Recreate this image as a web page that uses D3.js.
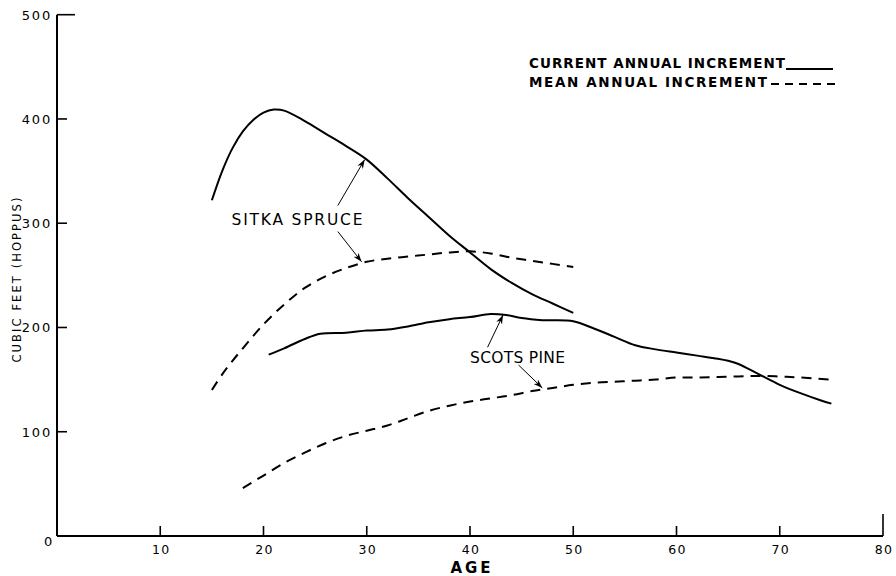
<!DOCTYPE html>
<html><head><meta charset="utf-8">
<script src="https://cdn.jsdelivr.net/npm/d3@7/dist/d3.min.js"></script>
<style>body{margin:0;background:#fff}svg{display:block}</style>
</head><body>
<svg id="c" width="896" height="576"></svg>
<script>
// ---- data (age in years, volume in cubic feet hoppus) ----
const xTicks = [10,20,30,40,50,60,70,80];
const yTicks = [100,200,300,400,500];
const sitkaCaiAge = [15,16,17,18,19,20,21,22,24,26,28,30,32,34,36,38,40,42,44,46,48,50];
const sitkaCaiVal = [322,350,372,388,399,406,409,408,398,386,374,361,343,324,306,288,272,256,243,232,223,214];
const sitkaMaiAge = [15,16,17,18,20,22,24,26,28,30,32,34,36,38,40,42,44,46,48,50];
const sitkaMaiVal = [140,155,168,180,203,222,238,249,257,263,266,268,270,272,273,271,267,264,261,258];
const scotsCaiAge = [20.5,22,24,25.5,28,30,32,34,36,38,40,42,43.5,45,47,50,52,54,56,58,60,62,64,65,66,68,70,72,74,75];
const scotsCaiVal = [174,180,189,194,195,197,198,201,205,208,210,213,212,209,207,206,199,191,183,179,176,173,170,168,165,155,145,137,130,127];
const scotsMaiAge = [18,20,22,24,26,28,30,32,34,36,38,40,42,44,46,48,50,52,54,56,58,60,62,64,66,68,70,72,75];
const scotsMaiVal = [46,58,70,80,89,96,101,106,113,120,125,129,132,135,139,142,145,147,148,149,150,152,152,152.5,153,153.5,153,152,150];
const labelNames = ["SITKA  SPRUCE","SCOTS PINE"];
const labelAt = [[16.9,298],[40,166]];
const arrowFrom = [[27.2,317],[27.2,292],[41.7,181],[44.7,164]];
const arrowTo   = [[29.8,361],[29.5,263],[43.2,212],[47.0,142]];
const legendNames = ["CURRENT ANNUAL INCREMENT","MEAN ANNUAL  INCREMENT"];

const svg = d3.select("#c");
const x = d3.scaleLinear().domain([0,80]).range([57,883]);
const y = d3.scaleLinear().domain([0,500]).range([536,14.7]);
const FONT = "'DejaVu Sans', sans-serif";

// axes
svg.append("line").attr("x1",x(0)).attr("x2",x(0)).attr("y1",y(0)).attr("y2",y(500))
  .attr("stroke","#000").attr("stroke-width",2);
svg.append("line").attr("x1",x(0)).attr("x2",x(80)).attr("y1",y(0)).attr("y2",y(0))
  .attr("stroke","#000").attr("stroke-width",2);
// y ticks (inward)
svg.selectAll(".yt").data(yTicks).enter().append("line")
  .attr("x1",x(0)).attr("x2",d=> d===500 ? x(0)+18 : x(0)+10)
  .attr("y1",d=>y(d)).attr("y2",d=>y(d)).attr("stroke","#000").attr("stroke-width",1.6);
svg.selectAll(".yl").data([0].concat(yTicks)).enter().append("text")
  .attr("x",d=> d===0 ? x(0)-3 : x(0)-5).attr("y",d=> d===0 ? y(0)+10 : y(d)+5)
  .attr("text-anchor","end").attr("font-family",FONT).attr("font-size",13)
  .attr("letter-spacing",1.8).text(d=>d);
// x ticks (inward/up)
svg.selectAll(".xt").data(xTicks).enter().append("line")
  .attr("x1",d=>x(d)).attr("x2",d=>x(d)).attr("y1",y(0))
  .attr("y2",d=> d===80 ? y(0)-22 : y(0)-10).attr("stroke","#000").attr("stroke-width",1.6);
svg.selectAll(".xl").data(xTicks).enter().append("text")
  .attr("x",d=>x(d)+1).attr("y",y(0)+18).attr("text-anchor","middle")
  .attr("font-family",FONT).attr("font-size",12.5).attr("letter-spacing",1.2).text(d=>d);
svg.append("text").attr("x",(x(40)+2)).attr("y",573).attr("text-anchor","middle")
  .attr("font-family",FONT).attr("font-weight","bold").attr("font-size",15)
  .attr("letter-spacing",3).text("AGE");
svg.append("text").attr("transform","translate(21,280) rotate(-90)")
  .attr("text-anchor","middle").attr("font-family",FONT).attr("font-size",11.5)
  .attr("textLength",165).attr("lengthAdjust","spacing").text("CUBIC FEET (HOPPUS)");

// curves
const line = d3.line().x(d=>x(d[0])).y(d=>y(d[1])).curve(d3.curveCatmullRom.alpha(0.5));
const series = [
  {age:sitkaCaiAge,val:sitkaCaiVal,dash:null},
  {age:sitkaMaiAge,val:sitkaMaiVal,dash:"10,7"},
  {age:scotsCaiAge,val:scotsCaiVal,dash:null},
  {age:scotsMaiAge,val:scotsMaiVal,dash:"10,7"}
];
series.forEach(s=>{
  svg.append("path").datum(s.age.map((a,i)=>[a,s.val[i]])).attr("d",line)
    .attr("fill","none").attr("stroke","#000").attr("stroke-width",2)
    .attr("stroke-dasharray",s.dash);
});

// arrows
svg.append("defs").append("marker").attr("id","ah").attr("viewBox","0 0 10 10")
  .attr("refX",10).attr("refY",5).attr("markerWidth",9).attr("markerHeight",9)
  .attr("markerUnits","userSpaceOnUse").attr("orient","auto")
  .append("path").attr("d","M0,1.5 L10,5 L0,8.5 L3,5 Z").attr("fill","#000");
svg.selectAll(".ar").data(arrowFrom).enter().append("line")
  .attr("x1",d=>x(d[0])).attr("y1",d=>y(d[1]))
  .attr("x2",(d,i)=>x(arrowTo[i][0])).attr("y2",(d,i)=>y(arrowTo[i][1]))
  .attr("stroke","#000").attr("stroke-width",1).attr("marker-end","url(#ah)");

// labels
const lw = [131,95];
svg.selectAll(".lb").data(labelNames).enter().append("text")
  .attr("x",(d,i)=>x(labelAt[i][0])).attr("y",(d,i)=>y(labelAt[i][1]))
  .attr("font-family",FONT).attr("font-size",15.5)
  .attr("textLength",(d,i)=>lw[i]).attr("lengthAdjust","spacing").text(d=>d);

// legend
const legW = [256,238];
const legY = [68,87];
svg.selectAll(".lg").data(legendNames).enter().append("text")
  .attr("x",529).attr("y",(d,i)=>legY[i]).attr("font-family",FONT)
  .attr("font-size",13.5).attr("font-weight","bold")
  .attr("textLength",(d,i)=>legW[i]).attr("lengthAdjust","spacing").text(d=>d);
svg.append("line").attr("x1",786).attr("x2",833).attr("y1",69).attr("y2",69)
  .attr("stroke","#000").attr("stroke-width",2);
svg.append("line").attr("x1",771).attr("x2",835).attr("y1",84).attr("y2",84)
  .attr("stroke","#000").attr("stroke-width",2).attr("stroke-dasharray","8,6");
</script>
</body></html>
